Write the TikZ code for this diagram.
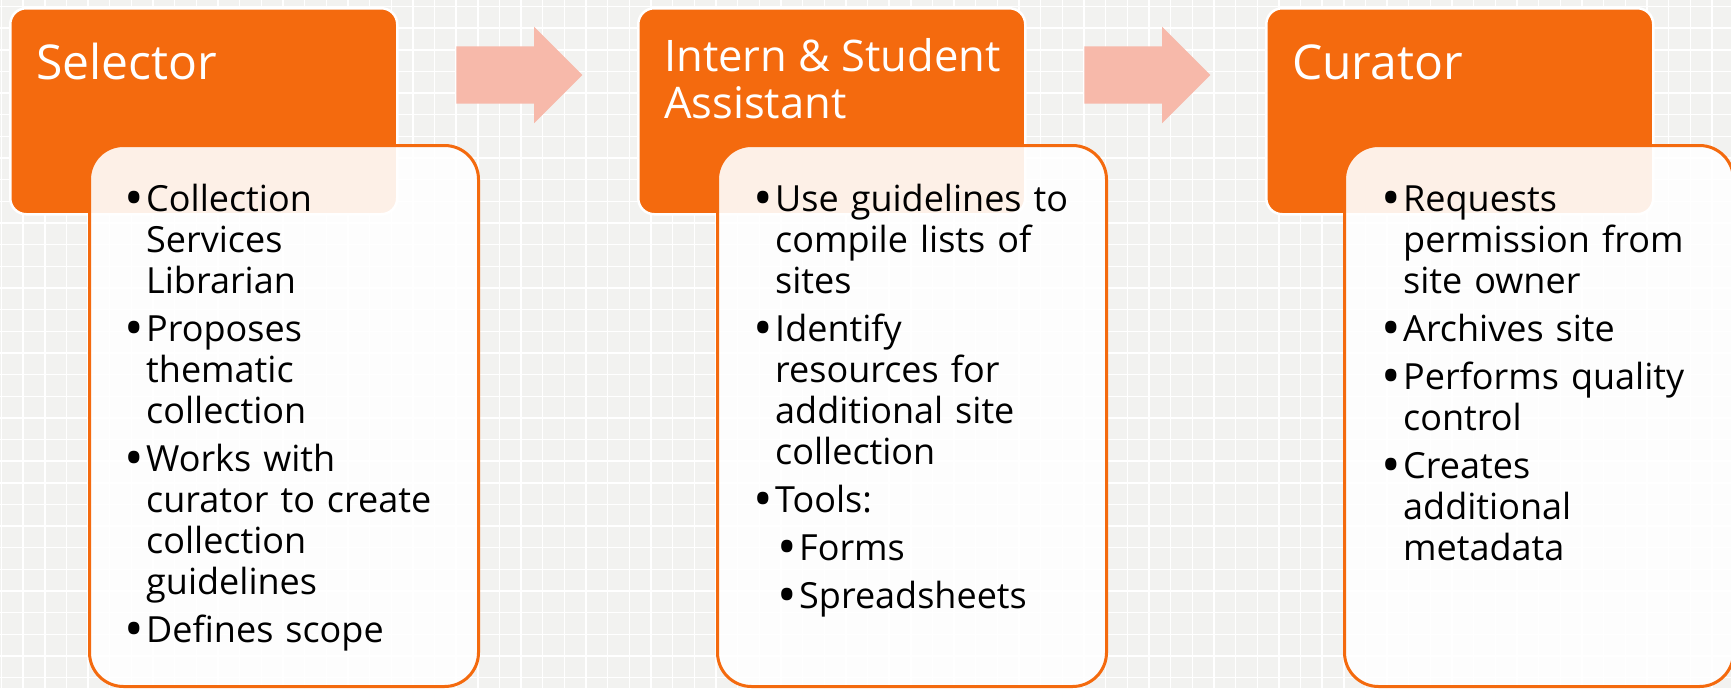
\documentclass[tikz,border=0pt]{standalone}
\usepackage{fontspec}
\setmainfont{Open Sans}
\usepackage{enumitem}
\usetikzlibrary{shapes.arrows,positioning}

\definecolor{hdorange}{RGB}{244,106,14}
\definecolor{arrowpink}{RGB}{247,185,170}
\definecolor{bggray}{RGB}{242,242,240}

\newcommand{\bigdot}{\raisebox{-5pt}{\fontsize{52}{41}\selectfont\textbullet}\kern-1.5pt}
\setlist[itemize]{label=\bigdot,leftmargin=19pt,labelsep=4pt,itemsep=7pt,parsep=0pt,topsep=0pt,partopsep=0pt}
\setlist[itemize,2]{leftmargin=24pt,topsep=7pt}

\begin{document}
\begin{tikzpicture}[x=1pt,y=-1pt]
\tikzstyle{head}=[rectangle,rounded corners=16pt,fill=hdorange,draw=white,line width=2.5pt,minimum width=387pt,minimum height=206pt,anchor=north west,inner sep=0pt]
\tikzstyle{card}=[rectangle,rounded corners=34pt,fill=white,fill opacity=0.9,draw=hdorange,line width=3pt,minimum width=389pt,minimum height=541pt,anchor=north west,inner sep=0pt]
\tikzstyle{title}=[text=white,font=\fontsize{48}{47}\selectfont,align=left,anchor=base west,inner sep=0pt]
\tikzstyle{items}=[text width=360pt,font=\fontsize{36}{41}\selectfont,anchor=base west,inner sep=0pt]
\tikzstyle{flow}=[single arrow,fill=arrowpink,minimum height=126pt,minimum width=96pt,text height=28.5pt,text depth=28.5pt,single arrow head extend=19.5pt,single arrow tip angle=90,single arrow head indent=0pt,inner sep=0pt]
\useasboundingbox (0,0) rectangle (1731,688);
% background paper
\fill[bggray] (0,0) rectangle (1731,688);
\begin{scope}[y=1pt,shift={(1.5pt,-6.5pt)}]
\draw[white,line width=1.4pt,step=21.65] (-21.65,-700) grid (1740,21.65);
\end{scope}
% arrows between the steps
\node[flow] (a1) at (505,75) {};
\node[flow] (a2) at (1133,75) {};
% headers
\node[head] (sel) at (9,7) {};
\node[head] (int) at (637,7) {};
\node[head] (cur) at (1265,7) {};
% cards
\node[card] (selc) at (88,144) {};
\node[card] (intc) at (716,144) {};
\node[card] (curc) at (1343,144) {};
% titles
\node[title] (selt) at ([xshift=27pt,yshift=-72pt]sel.north west) {Selector};
\node[title,font=\fontsize{43.5}{47}\selectfont] (intt) at ([xshift=27pt,yshift=-111pt]int.north west) {Intern \& Student\\Assistant};
\node[title] (curt) at ([xshift=27pt,yshift=-72pt]cur.north west) {Curator};
% bullet lists
\node[items] (seli) at (127,170) {\begin{itemize}
\item Collection\\Services\\Librarian
\item Proposes\\thematic\\collection
\item Works with\\curator to create\\collection\\guidelines
\item Defines scope
\end{itemize}};
\node[items] (inti) at (756,170) {\begin{itemize}
\item Use guidelines to\\compile lists of\\sites
\item Identify\\resources for\\additional site\\collection
\item Tools:
  \begin{itemize}
  \item Forms
  \item Spreadsheets
  \end{itemize}
\end{itemize}};
\node[items] (curi) at (1384,170) {\begin{itemize}
\item Requests\\permission from\\site owner
\item Archives site
\item Performs quality\\control
\item Creates\\additional\\metadata
\end{itemize}};
\end{tikzpicture}
\end{document}
